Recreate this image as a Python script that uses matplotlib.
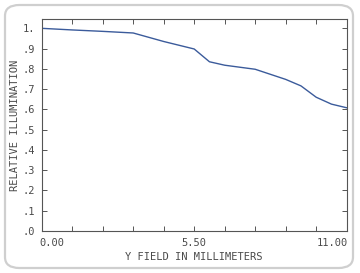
import matplotlib
matplotlib.use("Agg")
import matplotlib.pyplot as plt
from matplotlib.patches import FancyBboxPatch
from matplotlib.transforms import offset_copy
import numpy as np

field_mm = [0.0, 1.1, 2.2, 3.3, 4.4, 5.5, 6.05, 6.6, 7.7, 8.8, 9.35, 9.9, 10.45, 11.0]
rel_illum = [1.000, 0.992, 0.985, 0.977, 0.935, 0.898, 0.835, 0.818, 0.798, 0.748, 0.716, 0.660, 0.626, 0.608]

x_labels = ["0.00", "5.50", "11.00"]
x_label_vals = [0.0, 5.5, 11.0]
y_tick_vals = [round(0.1 * i, 1) for i in range(11)]
y_tick_labels = [".0", ".1", ".2", ".3", ".4", ".5", ".6", ".7", ".8", ".9", "1."]

W, H = 360, 273
fig = plt.figure(figsize=(W / 100, H / 100), dpi=100)
fig.patch.set_facecolor("white")

# rounded frame
frame = FancyBboxPatch((5 / W, 5 / H), 348 / W, 263 / H,
                       boxstyle="round,pad=0,rounding_size=0.04",
                       transform=fig.transFigure, fill=False,
                       edgecolor="#cfcfcf", linewidth=1.6)
fig.patches.append(frame)

ax = fig.add_axes([41.7 / W, 1 - 231 / H, 305 / W, 212 / H])
txt = "#4a4a4a"
font = "DejaVu Sans Mono"
fs = 7.5

ax.plot(field_mm, rel_illum, color="#3b5b9b", linewidth=1.0)
ax.set_xlim(0, 11.0)
ax.set_ylim(0, 1.046)

ax.set_xticks(np.arange(11) * 1.1)
ax.set_xticklabels([])
ax.set_yticks(y_tick_vals)
ax.set_yticklabels(y_tick_labels, family=font, fontsize=fs, color=txt)
ax.tick_params(axis="both", direction="in", length=3.5, width=0.7, color="#555555",
               top=True, right=True, pad=5)
for s in ax.spines.values():
    s.set_color("#555555")
    s.set_linewidth(0.8)

has = {0.0: "left", 5.5: "center", 11.0: "right"}
dxs = {0.0: -2.5, 5.5: 0.0, 11.0: 1.0}
for v, lab in zip(x_label_vals, x_labels):
    tr = offset_copy(ax.get_xaxis_transform(), fig=fig, x=dxs[v], y=0, units="dots")
    ax.text(v, -0.035, lab, transform=tr, ha=has[v], va="top",
            family=font, fontsize=fs, color=txt)

fig.text((41.7 + 346.7) / 2 / W, 1 - 257.5 / H, "Y FIELD IN MILLIMETERS", ha="center",
         va="center", family=font, fontsize=fs, color=txt)
fig.text(15 / W, 1 - 125 / H, "RELATIVE ILLUMINATION", ha="center", va="center",
         rotation=90, family=font, fontsize=fs, color=txt)

fig.savefig("out.png", dpi=100)
